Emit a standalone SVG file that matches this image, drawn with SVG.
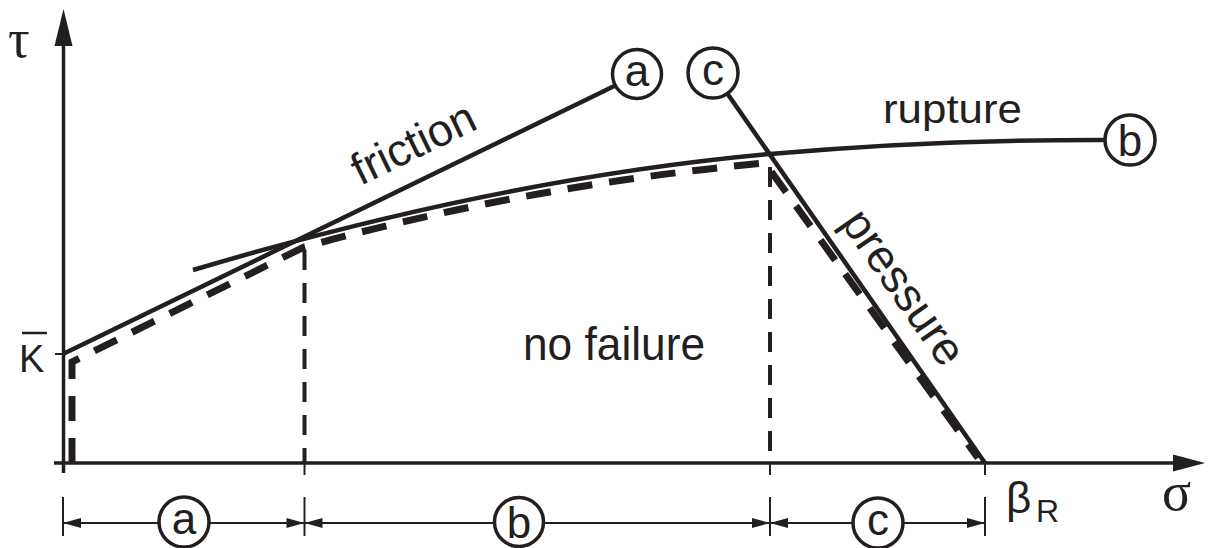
<svg xmlns="http://www.w3.org/2000/svg" width="1211" height="548" viewBox="0 0 1211 548">
<style>
.ax{stroke:#231f20;stroke-width:3.5;fill:none}
.ln{stroke:#231f20;stroke-width:4.5;fill:none;stroke-linecap:butt}
.dh{stroke:#231f20;stroke-width:7;fill:none;stroke-dasharray:25 17;stroke-linejoin:miter}
.dv{stroke:#231f20;stroke-width:4;fill:none;stroke-dasharray:20 13}
.th{stroke:#231f20;stroke-width:2;fill:none}
.cir{stroke:#231f20;stroke-width:3.5;fill:#fff}
.ah{fill:#231f20}
.t{font-family:"Liberation Sans",Arial,sans-serif;fill:#231f20}
.g{font-family:"Liberation Serif","Times New Roman",serif;fill:#231f20}
.cl{font-family:"Liberation Sans",Arial,sans-serif;fill:#231f20;font-size:44px;text-anchor:middle}
</style>
<defs>
<path id="arL" d="M0,0 L18,-5 L18,5 Z"/>
<path id="arR" d="M0,0 L-18,-5 L-18,5 Z"/>
</defs>
<g id="axes">
<line class="ax" x1="63.5" y1="473" x2="63.5" y2="40"/>
<path class="ah" d="M63.5,9 L72.5,46 L54.5,46 Z"/>
<line class="ax" x1="54" y1="463" x2="1178" y2="463"/>
<path class="ah" d="M1205,463 L1173,454.5 L1173,471.5 Z"/>
<text class="g" x="8" y="57" font-size="54">τ</text>
<text class="g" x="1162" y="510" font-size="54">σ</text>
<text class="t" x="1006" y="513" font-size="44">β</text>
<text class="t" x="1036" y="522" font-size="32">R</text>
<line class="th" x1="55" y1="354" x2="63" y2="354"/>
<text class="t" x="19" y="372" font-size="38">K</text>
<line x1="22" y1="333" x2="47" y2="333" stroke="#231f20" stroke-width="2.5"/>
</g>
<g id="connectors">
<path class="dh" d="M72,463 L72,362 L304,247 Q530,185 765,163 L978,458"/>
<line class="dv" x1="304.5" y1="250" x2="304.5" y2="463"/>
<line class="dv" x1="770" y1="167" x2="770" y2="463"/>
<line class="th" x1="304.5" y1="463" x2="304.5" y2="475"/>
<line class="th" x1="770" y1="463" x2="770" y2="475"/>
<line class="th" x1="985" y1="463" x2="985" y2="475"/>
<line id="friction-line" class="ln" x1="63" y1="354" x2="637" y2="75"/>
<path id="rupture-line" class="ln" d="M193,270 C385,213 578,171.3 770,154 C880,144.1 1000,139 1130,140"/>
<line id="pressure-line" class="ln" x1="713" y1="73" x2="985" y2="463"/>
<g id="dimension">
<line class="th" x1="63" y1="523" x2="985" y2="523"/>
<line class="th" x1="63" y1="497" x2="63" y2="536"/>
<line class="th" x1="304.5" y1="497" x2="304.5" y2="536"/>
<line class="th" x1="770" y1="497" x2="770" y2="536"/>
<line class="th" x1="985" y1="497" x2="985" y2="536"/>
<use href="#arL" class="ah" x="63" y="523"/>
<use href="#arR" class="ah" x="304.5" y="523"/>
<use href="#arL" class="ah" x="304.5" y="523"/>
<use href="#arR" class="ah" x="770" y="523"/>
<use href="#arL" class="ah" x="770" y="523"/>
<use href="#arR" class="ah" x="985" y="523"/>
</g>
</g>
<g id="label-a-top"><circle class="cir" cx="637" cy="74" r="24.5"/><text class="cl" x="637" y="86">a</text></g>
<g id="label-c-top"><circle class="cir" cx="713" cy="73" r="25"/><text class="cl" x="713" y="85">c</text></g>
<g id="label-b-top"><circle class="cir" cx="1130" cy="140" r="25"/><text class="cl" x="1130" y="156">b</text></g>
<g id="dim-a"><circle class="cir" cx="184" cy="522" r="25"/><text class="cl" x="184" y="534">a</text></g>
<g id="dim-b"><circle class="cir" cx="519" cy="522" r="24.5"/><text class="cl" x="519" y="538">b</text></g>
<g id="dim-c"><circle class="cir" cx="878" cy="523" r="25"/><text class="cl" x="878" y="535">c</text></g>
<g id="text-friction"><text class="t" font-size="45" text-anchor="middle" transform="translate(420,157) rotate(-26)">friction</text></g>
<g id="text-rupture"><text class="t" x="883" y="123" font-size="40" textLength="139" lengthAdjust="spacingAndGlyphs">rupture</text></g>
<g id="text-pressure"><text class="t" font-size="46" text-anchor="middle" transform="translate(891,296) rotate(55)">pressure</text></g>
<g id="text-nofailure"><text class="t" x="523" y="360" font-size="47" textLength="182" lengthAdjust="spacingAndGlyphs">no failure</text></g>
</svg>
